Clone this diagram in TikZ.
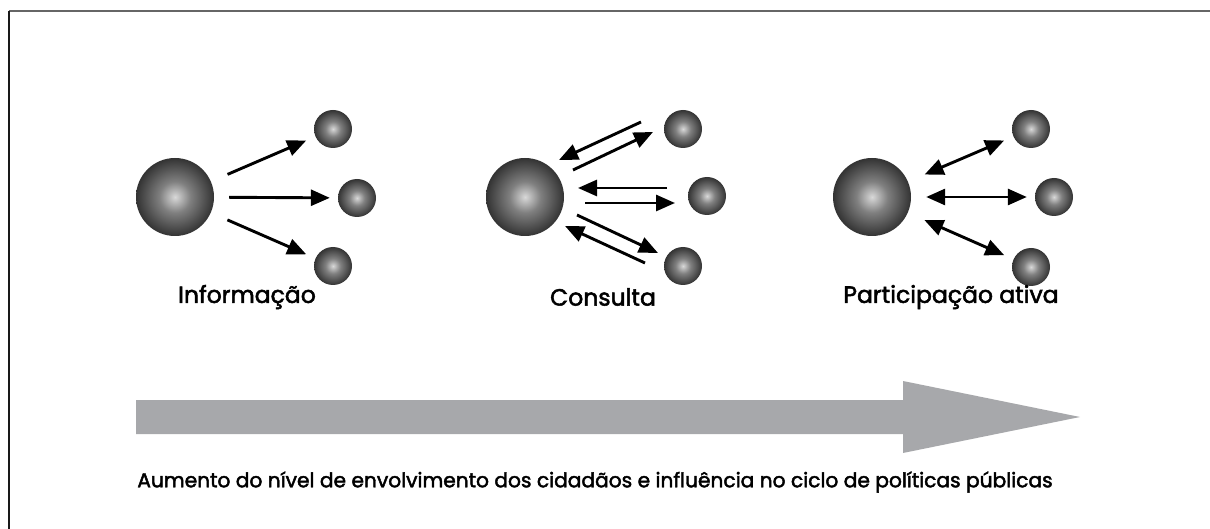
\documentclass[tikz,border=0pt]{standalone}
\usepackage{fontspec}
\setmainfont{Poppins}[FakeBold=2.2]
\usetikzlibrary{arrows.meta,calc}
\pgfdeclareradialshading{sph}{\pgfpoint{0bp}{0bp}}{color(0bp)=(black!15); color(10bp)=(black!50); color(25bp)=(black!80); color(50bp)=(black!80)}
\tikzset{
  bigball/.style={circle, minimum size=78pt, inner sep=0pt, shading=sph},
  smallball/.style={circle, minimum size=38pt, inner sep=0pt, shading=sph},
  arr/.style={line width=2.9pt, -{Triangle[length=19pt,width=16pt]}},
  darr/.style={line width=2.9pt, {Triangle[length=19pt,width=16pt]}-{Triangle[length=19pt,width=16pt]}},
  lbl/.style={font=\fontsize{23.5}{28}\selectfont, anchor=center},
  diag/.style={shorten <=18pt, shorten >=10pt},
  mid/.style={shorten <=15pt, shorten >=8pt},
}
\begin{document}
\begin{tikzpicture}[x=1pt,y=-1pt]
\useasboundingbox (0,0) rectangle (1210,529);
% frame
\draw[line width=1.5pt, black!60] (9,11) -- (1210,11);
\draw[line width=1.5pt, black!90] (9,11) -- (9,529);

% panel 1
\node[bigball] (b1) at (175,197) {};
\node[smallball] (s1a) at (333,129) {};
\node[smallball] (s1b) at (357,198) {};
\node[smallball] (s1c) at (333,266) {};
\draw[arr,diag] (b1) -- (s1a);
\draw[arr,mid] (b1) -- (s1b);
\draw[arr,diag] (b1) -- (s1c);
\node[lbl] (l1) at (247,297) {Informação};

% panel 2
\node[bigball] (b2) at (525,197) {};
\node[smallball] (s2a) at (683,129) {};
\node[smallball] (s2b) at (707,196) {};
\node[smallball] (s2c) at (683,266) {};
\coordinate (p1s) at (641,122); \coordinate (p1e) at (559,160);
\coordinate (p2s) at (573,170); \coordinate (p2e) at (653,132);
\coordinate (p3s) at (667,188); \coordinate (p3e) at (578,188);
\coordinate (p4s) at (585,203); \coordinate (p4e) at (675,203);
\coordinate (p5s) at (577,215); \coordinate (p5e) at (658,253);
\coordinate (p6s) at (645,263); \coordinate (p6e) at (565,226);
\draw[arr] (p1s) -- (p1e);
\draw[arr] (p2s) -- (p2e);
\draw[arr] (p3s) -- (p3e);
\draw[arr] (p4s) -- (p4e);
\draw[arr] (p5s) -- (p5e);
\draw[arr] (p6s) -- (p6e);
\node[lbl] (l2) at (603,297) {Consulta};

% panel 3
\node[bigball] (b3) at (872,197) {};
\node[smallball] (s3a) at (1031,129) {};
\node[smallball] (s3b) at (1054,197) {};
\node[smallball] (s3c) at (1031,267) {};
\draw[darr,diag] (b3) -- (s3a);
\draw[darr,mid] (b3) -- (s3b);
\draw[darr,diag] (b3) -- (s3c);
\node[lbl] (l3) at (951,297) {Participação ativa};

% big arrow
\fill[fill={rgb,255:red,167;green,168;blue,171}] (136,400) -- (903,400) -- (903,381) -- (1080,417) -- (903,453) -- (903,434) -- (136,434) -- cycle;
\node[font=\fontsize{20.2}{24}\selectfont, anchor=center] (cap) at (595,482) {Aumento do nível de envolvimento dos cidadãos e influência no ciclo de políticas públicas};
\end{tikzpicture}
\end{document}
